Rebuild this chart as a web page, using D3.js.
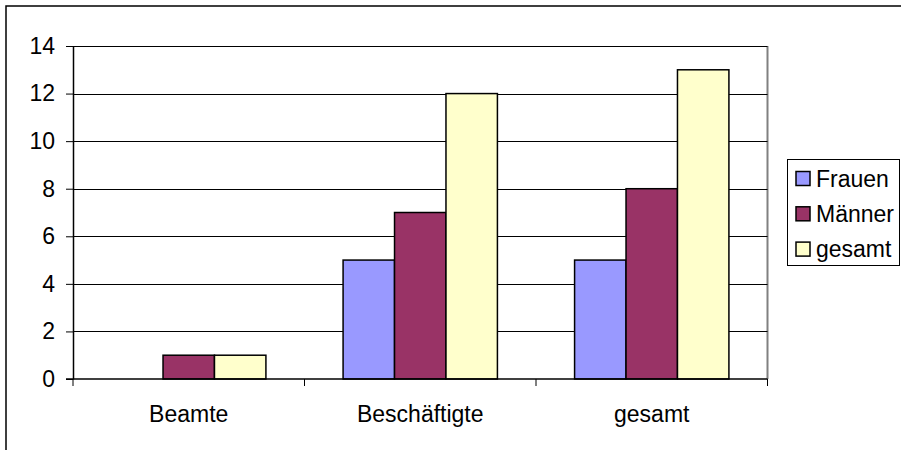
<!DOCTYPE html>
<html>
<head>
<meta charset="utf-8">
<script src="https://cdn.jsdelivr.net/npm/d3@7"></script>
<style>
  body { margin: 0; background: #fff; }
  text { font-family: "Liberation Sans", Arial, sans-serif; fill: #000; }
</style>
</head>
<body>
<div id="chart"></div>
<script>
// data
var categories = ['Beamte', 'Beschäftigte', 'gesamt'];
var seriesNames = ['Frauen', 'Männer', 'gesamt'];
var frauen = [0, 5, 5];
var maenner = [1, 7, 8];
var gesamt = [1, 12, 13];
var yTicks = [0, 2, 4, 6, 8, 10, 12, 14];
var colors = ['#9999FF', '#993366', '#FFFFCC'];

var seriesValues = [frauen, maenner, gesamt];

var W = 901, H = 450;
var plotLeft = 73, plotRight = 767.5, plotTop = 46, plotBottom = 379;
var fontSize = '23px';

var svg = d3.select('#chart').append('svg')
  .attr('width', W)
  .attr('height', H);

// outer chart border (runs off the picture on right and bottom)
svg.append('rect')
  .attr('x', 6)
  .attr('y', 6)
  .attr('width', 1000)
  .attr('height', 1000)
  .style('fill', 'none')
  .style('stroke', '#000')
  .style('stroke-width', 1.5);

var y = d3.scaleLinear().domain([0, 14]).range([plotBottom, plotTop]);
var x0 = d3.scaleBand().domain(categories).range([plotLeft, plotRight]).padding(0);
var bw = x0.bandwidth();
var x1 = d3.scaleBand().domain(seriesNames)
  .range([bw * 0.75 / 4.5, bw * 3.75 / 4.5]).padding(0);

// plot area right border
svg.append('line')
  .attr('x1', plotRight).attr('x2', plotRight)
  .attr('y1', plotTop).attr('y2', plotBottom)
  .style('stroke', '#808080')
  .style('stroke-width', 2);

// gridlines
svg.append('g').selectAll('line')
  .data(yTicks.filter(function(d) { return d > 0; }))
  .enter().append('line')
  .attr('x1', plotLeft).attr('x2', plotRight)
  .attr('y1', function(d) { return Math.round(y(d)) + 0.5; })
  .attr('y2', function(d) { return Math.round(y(d)) + 0.5; })
  .style('stroke', '#000')
  .style('stroke-width', 1);

// bars
var groups = svg.append('g').selectAll('g')
  .data(categories)
  .enter().append('g')
  .attr('transform', function(d) { return 'translate(' + x0(d) + ',0)'; });

groups.selectAll('rect')
  .data(function(d, i) {
    return seriesNames.map(function(s, j) {
      return { name: s, value: seriesValues[j][i], color: colors[j] };
    });
  })
  .enter().append('rect')
  .filter(function(d) { return d.value > 0; })
  .attr('x', function(d) { return x1(d.name); })
  .attr('y', function(d) { return y(d.value); })
  .attr('width', x1.bandwidth())
  .attr('height', function(d) { return y(0) - y(d.value); })
  .style('fill', function(d) { return d.color; })
  .style('stroke', '#000')
  .style('stroke-width', 1.5);

// y axis
var yAxis = svg.append('g')
  .attr('transform', 'translate(' + plotLeft + ',0)')
  .call(d3.axisLeft(y).tickValues(yTicks).tickSize(7).tickPadding(11).tickSizeOuter(0));
yAxis.select('.domain').style('stroke', '#000').style('stroke-width', 1.5);
yAxis.selectAll('.tick line').style('stroke', '#000');
yAxis.selectAll('text')
  .style('font-size', fontSize)
  .style('font-family', '"Liberation Sans", Arial, sans-serif');

// x axis
var xAxis = svg.append('g')
  .attr('transform', 'translate(0,' + plotBottom + ')');
xAxis.append('line')
  .attr('x1', plotLeft - 7).attr('x2', plotRight)
  .attr('y1', 0).attr('y2', 0)
  .style('stroke', '#000')
  .style('stroke-width', 1.5);
xAxis.selectAll('.ctick')
  .data(categories.concat(['end']))
  .enter().append('line')
  .attr('x1', function(d, i) { return i < categories.length ? x0(d) : plotRight; })
  .attr('x2', function(d, i) { return i < categories.length ? x0(d) : plotRight; })
  .attr('y1', 0).attr('y2', 7)
  .style('stroke', '#000');
xAxis.selectAll('.clabel')
  .data(categories)
  .enter().append('text')
  .attr('x', function(d) { return x0(d) + bw / 2; })
  .attr('y', 42.5)
  .attr('text-anchor', 'middle')
  .style('font-size', fontSize)
  .text(function(d) { return d; });

// legend
var legend = svg.append('g');
legend.append('rect')
  .attr('x', 787.5)
  .attr('y', 159.5)
  .attr('width', 112)
  .attr('height', 106)
  .style('fill', '#fff')
  .style('stroke', '#000')
  .style('stroke-width', 1);

var items = legend.selectAll('.item')
  .data(seriesNames)
  .enter().append('g')
  .attr('transform', function(d, i) { return 'translate(0,' + (178.5 + i * 35.3) + ')'; });

items.append('rect')
  .attr('x', 796)
  .attr('y', -7)
  .attr('width', 14)
  .attr('height', 14)
  .style('fill', function(d, i) { return colors[i]; })
  .style('stroke', '#000')
  .style('stroke-width', 1.5);

items.append('text')
  .attr('x', 816)
  .attr('y', 8)
  .style('font-size', fontSize)
  .text(function(d) { return d; });
</script>
</body>
</html>
